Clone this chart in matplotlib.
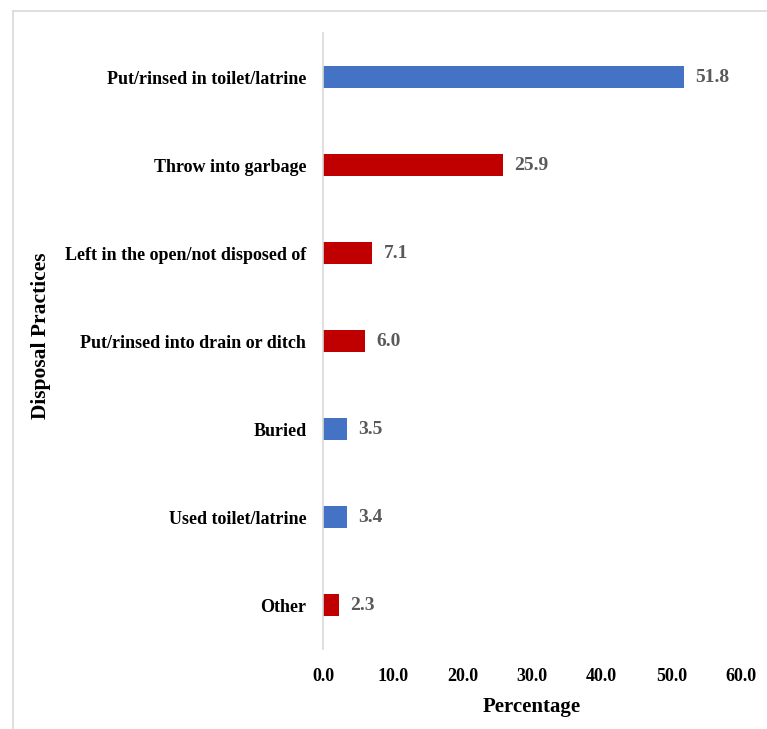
import numpy as np
from matplotlib import pyplot as plt
from matplotlib.lines import Line2D

plt.rcParams['font.family'] = ['Liberation Serif', 'DejaVu Serif']

"DATA"
categories = ['Put/rinsed in toilet/latrine', 'Throw into garbage',
              'Left in the open/not disposed of', 'Put/rinsed into drain or ditch',
              'Buried', 'Used toilet/latrine', 'Other']
values = [51.8, 25.9, 7.1, 6.0, 3.5, 3.4, 2.3]
bar_colors = ['#4472C4', '#C00000', '#C00000', '#C00000', '#4472C4', '#4472C4', '#C00000']
xticks = [0, 10, 20, 30, 40, 50, 60]

"MAKE PLOT"
fig = plt.figure(figsize=(7.67, 7.29), dpi=100)
ax = fig.add_axes([0.4211, 0.1097, 0.545, 0.845])

y = np.arange(len(categories))
ax.barh(y, values, height=0.25, color=bar_colors)
ax.set_ylim(len(categories) - 0.5, -0.5)
ax.set_xlim(0, 60)

for yi, v in zip(y, values):
    ax.text(v + 1.6, yi, f'{v:.1f}', va='center', ha='left',
            fontsize=14, fontweight='bold', color='#595959')

ax.set_yticks(y)
ax.set_yticklabels(categories, fontsize=13, fontweight='bold')
ax.set_xticks(xticks)
ax.set_xticklabels([f'{t:.1f}' for t in xticks], fontsize=13, fontweight='bold')
ax.tick_params(axis='both', length=0)
ax.tick_params(axis='y', pad=12)
ax.tick_params(axis='x', pad=14)

for s in ['top', 'right', 'bottom']:
    ax.spines[s].set_visible(False)
ax.spines['left'].set_color('#d9d9d9')
ax.spines['left'].set_linewidth(1.2)

ax.set_xlabel('Percentage', fontsize=15, fontweight='bold', labelpad=8)
fig.text(0.053, 0.539, 'Disposal Practices', rotation=90, va='center', ha='center',
         fontsize=15.5, fontweight='bold')

"BORDER"
fig.add_artist(Line2D([13/767, 1], [1 - 11/729, 1 - 11/729], color='#d9d9d9', lw=1.2))
fig.add_artist(Line2D([13/767, 13/767], [0, 1 - 11/729], color='#d9d9d9', lw=1.2))

fig.savefig('out.png', dpi=100)
